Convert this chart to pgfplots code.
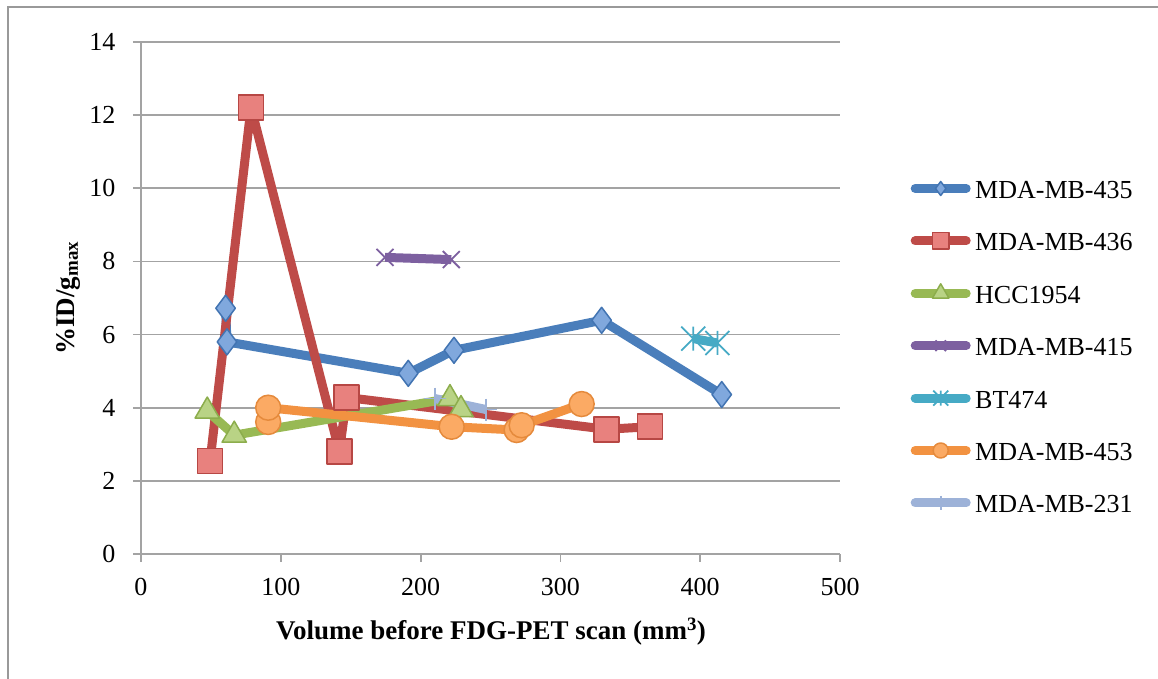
\documentclass[border=0pt]{standalone}
\usepackage{fontspec}
\setmainfont{Liberation Serif}
\usepackage{pgfplots}
\pgfplotsset{compat=1.18}

\definecolor{gridgray}{HTML}{A3A3A3}
\definecolor{framegray}{HTML}{999999}
\definecolor{sBlue}{HTML}{4A7EBB}
\definecolor{sBlueFill}{HTML}{80A8DD}
\definecolor{sBlueEdge}{HTML}{4274B2}
\definecolor{sRed}{HTML}{BE4B48}
\definecolor{sRedFill}{HTML}{E8817E}
\definecolor{sRedEdge}{HTML}{B74744}
\definecolor{sGreen}{HTML}{98B954}
\definecolor{sGreenFill}{HTML}{B9D385}
\definecolor{sGreenEdge}{HTML}{8CAD4C}
\definecolor{sPurple}{HTML}{7D60A0}
\definecolor{sTeal}{HTML}{46AAC5}
\definecolor{sOrange}{HTML}{F29241}
\definecolor{sOrangeFill}{HTML}{FBAA64}
\definecolor{sOrangeEdge}{HTML}{E58A3C}
\definecolor{sLight}{HTML}{9DB2D8}

% Excel-style "star" marker: a cross with a vertical bar through it
\pgfdeclareplotmark{xstar}{%
  \pgfpathmoveto{\pgfqpoint{-\pgfplotmarksize}{-\pgfplotmarksize}}%
  \pgfpathlineto{\pgfqpoint{\pgfplotmarksize}{\pgfplotmarksize}}%
  \pgfpathmoveto{\pgfqpoint{-\pgfplotmarksize}{\pgfplotmarksize}}%
  \pgfpathlineto{\pgfqpoint{\pgfplotmarksize}{-\pgfplotmarksize}}%
  \pgfpathmoveto{\pgfqpoint{0pt}{-\pgfplotmarksize}}%
  \pgfpathlineto{\pgfqpoint{0pt}{\pgfplotmarksize}}%
  \pgfusepathqstroke}

% legend sample: thick rounded line with a smaller marker in the middle
\pgfplotsset{
  mylegend/.style={
    legend image code/.code={
      \path (0pt,0pt) (60pt,0pt);
      \draw[##1, mark=none, line cap=round] (4.5pt,0pt) -- (55.5pt,0pt);
      \draw[##1, mark size=#1] plot coordinates {(30pt,0pt)};
    }
  }
}

\begin{document}
\begin{tikzpicture}[x=1pt,y=1pt]
\path[use as bounding box] (0,0) rectangle (1158,679);
\draw[framegray, line width=2pt] (7.5,-2) -- (7.5,671.5) -- (1160,671.5);
\begin{axis}[
  at={(141pt,125pt)}, anchor=south west,
  scale only axis, width=699pt, height=512pt,
  xmin=0, xmax=500, ymin=0, ymax=14,
  xtick={0,100,...,500}, ytick={0,2,...,14},
  axis lines*=left,
  axis line style={gridgray, line width=1.8pt},
  ymajorgrids, grid style={gridgray, line width=1.8pt},
  tick align=outside, major tick length=8pt,
  tick style={gridgray, line width=1.8pt},
  ticklabel style={font=\fontsize{26}{30}\selectfont},
  xticklabel style={yshift=-13pt},
  yticklabel style={xshift=-14pt},
  /pgf/number format/assume math mode=true,
  every axis x label/.style={at={(axis description cs:0.5007,-0.152)}, anchor=center},
  every axis y label/.style={at={(axis description cs:-0.1044,0.5)}, rotate=90, anchor=center},
  xlabel={\fontsize{27}{32}\selectfont\bfseries Volume before FDG-PET scan (mm\textsuperscript{3})},
  ylabel={\fontsize{27}{32}\selectfont\bfseries \%ID/g\textsubscript{max}},
  legend cell align=left,
  legend style={draw=none, fill=none, at={(axis description cs:1.0944,0.7377)}, anchor=north west,
    font=\fontsize{26}{30}\selectfont, row sep=28.4pt, inner sep=0pt,
    nodes={inner sep=0pt, text height=22pt, text depth=2pt},
    /tikz/every even column/.append style={column sep=2pt}},
]
\addplot[sBlue, line width=9pt, line join=round, mark=diamond*, mark size=13pt,
  mark options={fill=sBlueFill, draw=sBlueEdge, line width=1.5pt}, mylegend=7pt]
  coordinates {(60.5,6.72) (61.5,5.80) (191.2,4.94) (223.9,5.57) (329.5,6.39) (415.4,4.36)};
\addlegendentry{MDA-MB-435}
\addplot[sRed, line width=9pt, line join=round, mark=square*, mark size=12.5pt,
  mark options={fill=sRedFill, draw=sRedEdge, line width=1.5pt}, mylegend=8.3pt]
  coordinates {(49.4,2.54) (78.7,12.21) (141.9,2.80) (147.1,4.28) (333.0,3.41) (364.0,3.48)};
\addlegendentry{MDA-MB-436}
\addplot[sGreen, line width=9pt, line join=round, mark=triangle*, mark size=14pt,
  mark options={fill=sGreenFill, draw=sGreenEdge, line width=1.5pt}, mylegend=9.5pt]
  coordinates {(47.4,3.91) (66.7,3.25) (221.0,4.25) (228.9,3.95)};
\addlegendentry{HCC1954}
\addplot[sPurple, line width=9pt, line join=round, mark=x, mark size=12pt,
  mark options={draw=sPurple, line width=1.8pt}, mylegend=7.5pt]
  coordinates {(174.5,8.11) (222.0,8.05)};
\addlegendentry{MDA-MB-415}
\addplot[sTeal, line width=9pt, line join=round, mark=xstar, mark size=12pt,
  mark options={draw=sTeal, line width=1.8pt}, mylegend=7.5pt]
  coordinates {(395.0,5.89) (412.3,5.77)};
\addlegendentry{BT474}
\addplot[sOrange, line width=9pt, line join=round, mark=*, mark size=12.5pt,
  mark options={fill=sOrangeFill, draw=sOrangeEdge, line width=1.5pt}, mylegend=7.5pt]
  coordinates {(91.0,3.61) (91.0,4.00) (222.2,3.48) (268.7,3.39) (272.3,3.52) (315.2,4.10)};
\addlegendentry{MDA-MB-453}
\addplot[sLight, line width=9pt, line join=round, mark=+, mark size=11pt,
  mark options={draw=sLight, line width=1.8pt}, mylegend=7pt]
  coordinates {(210.3,4.25) (246.8,3.95)};
\addlegendentry{MDA-MB-231}
\end{axis}
\end{tikzpicture}
\end{document}
